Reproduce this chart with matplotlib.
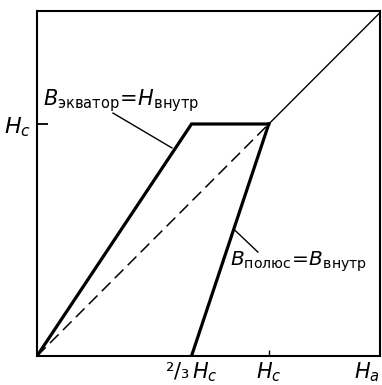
import matplotlib
matplotlib.use('Agg')
import matplotlib.pyplot as plt

plt.rcParams['mathtext.fontset'] = 'dejavusans'

# field values in units of Hc
hc = 1.0
ha = 1.48

# equator branch: B = H_inner
eq_x = [0, 2/3, 1]
eq_y = [0, 1, 1]
# pole branch: B = B_inner
pole_x = [2/3, 1]
pole_y = [0, 1]
# B = H_a (dashed below Hc, thin above)
lin_x = [0, 1]
lin_y = [0, 1]
top_x = [1, ha]
top_y = [1, ha]

fig = plt.figure(figsize=(3.82, 3.85), dpi=100)
ax = fig.add_axes([0.0969, 0.0753, 0.8979, 0.8961])

ax.plot(eq_x, eq_y, color='black', linewidth=2.3, solid_joinstyle='miter')
ax.plot(pole_x, pole_y, color='black', linewidth=2.3)
ax.plot(lin_x, lin_y, color='black', linewidth=1.1, dashes=(8, 4))
ax.plot(top_x, top_y, color='black', linewidth=1.0)

# leader lines for the two labels
ax.plot([0.328, 0.582], [1.047, 0.897], color='black', linewidth=1.0)
ax.plot([0.853, 0.953], [0.543, 0.448], color='black', linewidth=1.0)

ax.text(0.026, 1.082, r'$B_{\mathsf{экватор}}\!=\!H_{\mathsf{внутр}}$', fontsize=15,
        ha='left', va='baseline')
ax.text(0.832, 0.405, r'$B_{\mathsf{полюс}}\!=\!B_{\mathsf{внутр}}$', fontsize=14.5,
        ha='left', va='center')

ax.set_xlim(0, ha)
ax.set_ylim(0, 1.487)

ax.set_xticks([hc])
ax.set_xticklabels([r'$H_c$'], fontsize=15)
ax.set_xticks([2/3, ha], minor=True)
ax.set_xticklabels(['²/₃' + r'$\,H_c$', r'$H_a$'], minor=True, fontsize=15)
ax.get_xticklabels(minor=True)[1].set_ha('right')
ax.set_yticks([hc])
ax.set_yticklabels([r'$H_c$'], fontsize=16)

ax.tick_params(axis='x', which='major', direction='in', length=4.5, width=1, pad=3)
ax.tick_params(axis='x', which='minor', length=0, pad=3)
ax.tick_params(axis='y', which='major', direction='in', length=8, width=1.3, pad=4)

for s in ax.spines.values():
    s.set_linewidth(1.5)

plt.savefig('out.png', dpi=100)
